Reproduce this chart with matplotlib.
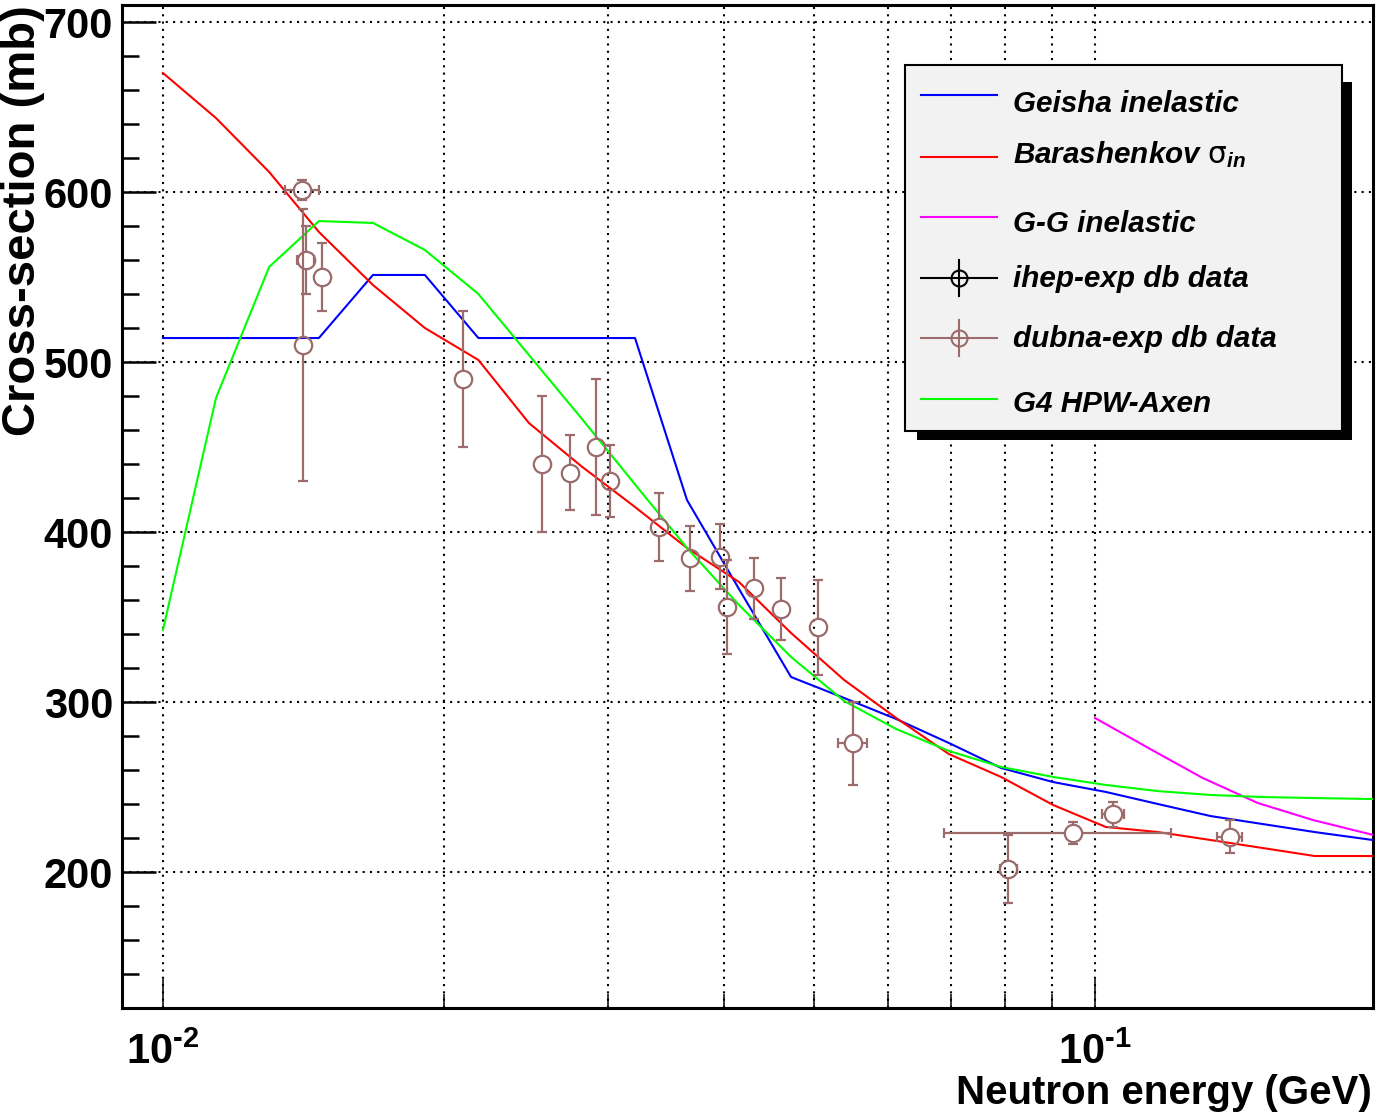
import numpy as np
import matplotlib
matplotlib.use("Agg")
import matplotlib.pyplot as plt
from matplotlib import font_manager as fm
from matplotlib.lines import Line2D
from matplotlib.patches import Rectangle
from matplotlib.ticker import FixedLocator, NullFormatter, MultipleLocator

# ---------------- data ----------------
model_energy = [0.0100, 0.0114, 0.0130, 0.0147, 0.0168, 0.0191, 0.0218, 0.0247,
                0.0281, 0.0321, 0.0365, 0.0415, 0.0472, 0.0538, 0.0612, 0.0697,
                0.0793, 0.0902, 0.1027, 0.1168, 0.1331, 0.1514, 0.1721, 0.1988]
geisha = [514.1, 514.1, 514.1, 514.1, 551.2, 551.2, 514.1, 514.1,
          514.1, 514.1, 418.8, 366.5, 314.7, 302.4, 290.0, 275.9,
          261.2, 252.9, 247.1, 240.0, 232.9, 228.2, 223.5, 218.8]
barashenkov = [670.0, 643.5, 611.8, 576.5, 545.3, 520.0, 501.2, 464.1,
               438.8, 414.7, 390.6, 370.6, 340.6, 313.0, 290.6, 269.4,
               255.9, 239.4, 226.5, 223.5, 218.8, 214.1, 209.4, 209.4]
hpw_axen = [342.4, 478.8, 555.9, 582.9, 581.8, 565.9, 540.0, 504.1,
            467.1, 428.0, 390.6, 357.1, 326.5, 300.6, 284.1, 271.2,
            261.8, 255.9, 251.2, 247.6, 245.3, 244.1, 243.5, 242.9]
gg_energy = [0.1000, 0.1151, 0.1305, 0.1495, 0.1713, 0.1988]
gg_inelastic = [290.6, 271.8, 255.3, 240.6, 230.6, 221.8]

dubna_energy = [0.01411, 0.01413, 0.01423, 0.01483, 0.02098, 0.02553, 0.02731,
                0.02916, 0.03014, 0.03410, 0.03679, 0.03963, 0.04029, 0.04311,
                0.04604, 0.05040, 0.05495, 0.08076, 0.09480, 0.10460, 0.13950]
dubna_xs = [601.2, 510.0, 560.0, 550.0, 490.0, 440.0, 434.9,
            450.2, 430.0, 402.8, 384.5, 385.5, 356.0, 366.9,
            354.7, 344.0, 275.7, 201.6, 222.8, 233.9, 220.8]
dubna_yerr = [6.0, 80.0, 20.0, 20.0, 40.0, 40.0, 22.0,
              40.0, 21.0, 20.0, 19.0, 19.0, 27.7, 18.0,
              18.0, 28.0, 24.5, 20.0, 6.5, 7.5, 9.5]
dubna_xerr = [0.0006, 0.0, 0.0003, 0.0, 0.0, 0.0, 0.0,
              0.0, 0.0, 0.0, 0.0, 0.0, 0.0, 0.0,
              0.0, 0.0, 0.0020, 0.0017, 0.0259, 0.0029, 0.0042]

legend_labels = ["Geisha inelastic", r"Barashenkov $\mathrm{\sigma}_{in}$", "G-G inelastic",
                 "ihep-exp db data", "dubna-exp db data", "G4 HPW-Axen"]
y_ticks = [200, 300, 400, 500, 600, 700]
x_major_ticks = [0.01, 0.1]
x_major_labels = ["$10^{\u20102}$", "$10^{\u20101}$"]
x_minor_ticks = [0.02, 0.03, 0.04, 0.05, 0.06, 0.07, 0.08, 0.09]
x_title = "Neutron energy (GeV)"
y_title = "Cross-section (mb)"

# ---------------- style ----------------
C_GEISHA = "#0000ff"
C_BARA = "#ff0000"
C_GG = "#ff00ff"
C_AXEN = "#00ff00"
C_DUBNA = "#9c6b6b"
C_IHEP = "#000000"

names = {f.name for f in fm.fontManager.ttflist}
if "Liberation Sans Narrow" in names:
    NARROW = "Liberation Sans Narrow"
    FS_TICK, FS_XT, FS_LEG = 34, 34, 26
else:
    NARROW = "Liberation Sans"
    FS_TICK, FS_XT, FS_LEG = 30, 29, 21.3
WIDE = "Liberation Sans"
plt.rcParams["mathtext.default"] = "regular"

W, H = 1376, 1116
fig = plt.figure(figsize=(W / 100, H / 100), dpi=100)
fig.patch.set_facecolor("white")


def P(px, py):
    return (px / W, 1 - py / H)


ax = fig.add_axes([122 / W, 1 - 1008 / H, (1373 - 122) / W, (1008 - 5) / H])
ax.set_xscale("log")
ax.set_xlim(0.009038, 0.19876)
ax.set_ylim(120, 710)
ax.set_autoscale_on(False)

for s in ax.spines.values():
    s.set_linewidth(2.2)
    s.set_color("black")

ax.xaxis.set_major_locator(FixedLocator(x_major_ticks))
ax.set_xticklabels(x_major_labels)
ax.xaxis.set_minor_locator(FixedLocator(x_minor_ticks))
ax.xaxis.set_minor_formatter(NullFormatter())
ax.set_yticks(y_ticks)
ax.set_yticklabels([str(v) for v in y_ticks])
ax.yaxis.set_minor_locator(MultipleLocator(20))

ax.tick_params(axis="y", which="major", direction="in", length=24.5, width=1.8,
               left=True, right=False, pad=6.5)
ax.tick_params(axis="y", which="minor", direction="in", length=12.5, width=1.8,
               left=True, right=False)
ax.tick_params(axis="x", which="major", direction="in", length=21, width=1.1,
               bottom=True, top=False, pad=18)
ax.tick_params(axis="x", which="minor", direction="in", length=10, width=1.1,
               bottom=True, top=False)
for lbl in ax.get_yticklabels() + ax.get_xticklabels():
    lbl.set_fontfamily([NARROW, "DejaVu Sans"])
    lbl.set_fontweight("bold")
    lbl.set_fontsize(FS_TICK)

grid_kw = dict(color="black", linestyle=(0, (1, 2.5)), linewidth=1.5)
ax.grid(True, which="major", axis="both", **grid_kw)
ax.grid(True, which="minor", axis="x", **grid_kw)
ax.set_axisbelow(True)

# ---------------- curves ----------------
ax.plot(model_energy, geisha, color=C_GEISHA, lw=1.5, zorder=3)
ax.plot(model_energy, barashenkov, color=C_BARA, lw=1.5, zorder=3)
ax.plot(gg_energy, gg_inelastic, color=C_GG, lw=1.5, zorder=3)
ax.plot(model_energy, hpw_axen, color=C_AXEN, lw=1.5, zorder=3)

# ---------------- data points with ROOT-style error bars ----------------
trans = ax.transData
inv = trans.inverted()
R = 8.3  # marker radius in pixels
ebkw = dict(color=C_DUBNA, lw=1.6, zorder=5, solid_capstyle="butt")
for x, y, ye, xe in zip(dubna_energy, dubna_xs, dubna_yerr, dubna_xerr):
    X, Y = trans.transform((x, y))
    if ye > 0:
        Yt = trans.transform((x, y + ye))[1]
        if Yt - Y > R:
            yu = inv.transform((X, Y + R))[1]
            yd = inv.transform((X, Y - R))[1]
            ax.plot([x, x], [yu, y + ye], **ebkw)
            ax.plot([x, x], [y - ye, yd], **ebkw)
        ax.plot([x, x], [y + ye, y - ye], ls="none", marker="_", ms=7,
                mew=1.6, color=C_DUBNA, zorder=5)
    if xe > 0:
        Xr = trans.transform((x + xe, y))[0]
        if Xr - X > R:
            xr = inv.transform((X + R, Y))[0]
            xl = inv.transform((X - R, Y))[0]
            ax.plot([xr, x + xe], [y, y], **ebkw)
            ax.plot([x - xe, xl], [y, y], **ebkw)
        ax.plot([x - xe, x + xe], [y, y], ls="none", marker="|", ms=7,
                mew=1.6, color=C_DUBNA, zorder=5)
ax.plot(dubna_energy, dubna_xs, ls="none", marker="o", ms=12.5, mfc="none",
        mec=C_DUBNA, mew=1.6, zorder=6)

# ---------------- legend (ROOT TLegend look) ----------------
sx, sy = P(917, 440)
fig.add_artist(Rectangle((sx, sy), 435 / W, 358 / H, transform=fig.transFigure,
                         facecolor="black", edgecolor="none", zorder=10))
bx, by = P(905, 431)
fig.add_artist(Rectangle((bx, by), 437 / W, 366 / H, transform=fig.transFigure,
                         facecolor="#f2f2f2", edgecolor="black", lw=1.5, zorder=11))

line_y = [95, 157, 217, 278, 338, 399]
base_y = [112, 163, 232, 287, 347, 412]
kinds = [("line", C_GEISHA), ("line", C_BARA), ("line", C_GG),
         ("err", C_IHEP), ("err", C_DUBNA), ("line", C_AXEN)]
for lab, ly, by_, (kind, col) in zip(legend_labels, line_y, base_y, kinds):
    x0, yy = P(921, ly)
    x1, _ = P(997, ly)
    fig.add_artist(Line2D([x0, x1], [yy, yy], transform=fig.transFigure,
                          color=col, lw=1.5, zorder=12))
    if kind == "err":
        xc, _ = P(959, ly)
        _, yt = P(959, ly - 18)
        _, yb = P(959, ly + 18)
        fig.add_artist(Line2D([xc, xc], [yb, yt], transform=fig.transFigure,
                              color=col, lw=1.5, zorder=12))
        fig.add_artist(Line2D([xc], [yy], transform=fig.transFigure, ls="none",
                              marker="o", ms=11.5, mfc="none", mec=col, mew=1.5,
                              zorder=12))
    tx, ty = P(1013, by_)
    fig.text(tx, ty, lab, ha="left", va="baseline", fontsize=FS_LEG,
             fontweight="bold", fontstyle="italic",
             family=[NARROW, "DejaVu Sans"], zorder=13)

# ---------------- axis titles ----------------
tx, ty = P(1372, 1104)
fig.text(tx, ty, x_title, ha="right", va="baseline", fontsize=FS_XT,
         fontweight="bold", family=[NARROW, "DejaVu Sans"])
tx, ty = P(23, 5)
fig.text(tx, ty, y_title, ha="center", va="top", rotation=90, fontsize=34,
         fontweight="bold", family=[WIDE, "DejaVu Sans"])

fig.savefig("out.png", dpi=100)
